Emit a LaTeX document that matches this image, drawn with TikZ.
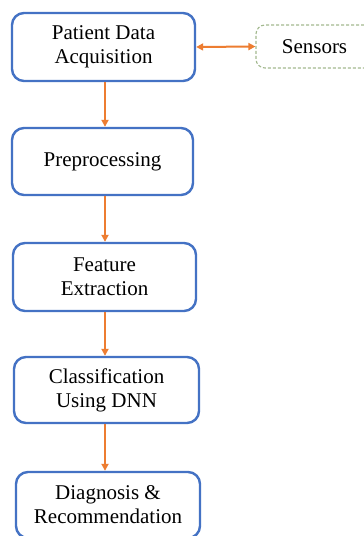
\documentclass[tikz,border=0pt]{standalone}
\usepackage{fontspec}
\setmainfont{Liberation Serif}
\usetikzlibrary{arrows.meta}
\definecolor{boxblue}{HTML}{4472C4}
\definecolor{flowor}{HTML}{ED7D31}
\definecolor{sensgreen}{HTML}{A3B98F}
\begin{document}
\begin{tikzpicture}[x=1pt,y=-1pt,
  stage/.style={draw=boxblue, line width=2.4pt, rounded corners=12pt,
    fill=white, align=center, inner sep=0pt,
    font=\fontsize{21}{24}\selectfont},
  sensbox/.style={draw=sensgreen, line width=1.1pt, dashed,
    dash pattern=on 3pt off 2pt, rounded corners=9pt,
    align=center, inner sep=0pt, font=\fontsize{21}{24}\selectfont},
  flow/.style={draw=flowor, line width=2pt,
    -{Triangle[length=7pt,width=7pt]}},
  both/.style={draw=flowor, line width=2pt,
    {Triangle[length=7pt,width=7pt]}-{Triangle[length=7pt,width=7pt]}}]
\useasboundingbox[fill=white] (0,0) rectangle (364,536);

\node[stage, minimum width=183pt, minimum height=68pt] (b1) at (103.5,47) {Patient Data\\Acquisition};
\node[stage, minimum width=181pt, minimum height=67pt] (b2) at (102.5,161.5) {Preprocessing};
\node[stage, minimum width=183pt, minimum height=68pt] (b3) at (104.5,277) {Feature\\Extraction};
\node[stage, minimum width=185pt, minimum height=66pt] (b4) at (106.5,390) {Classification\\Using DNN};
\node[stage, minimum width=184pt, minimum height=66pt] (b5) at (108,505) {Diagnosis \&\\Recommendation};
\node[sensbox, minimum width=117pt, minimum height=43pt] (s) at (314.5,46.5) {Sensors};

\coordinate (ax) at (105,0);
\draw[flow] (b1.south -| ax) -- (b2.north -| ax);
\draw[flow] (b2.south -| ax) -- (b3.north -| ax);
\draw[flow] (b3.south -| ax) -- (b4.north -| ax);
\draw[flow] (b4.south -| ax) -- (b5.north -| ax);
\draw[both] (b1.east) -- (s.west);
\end{tikzpicture}
\end{document}
